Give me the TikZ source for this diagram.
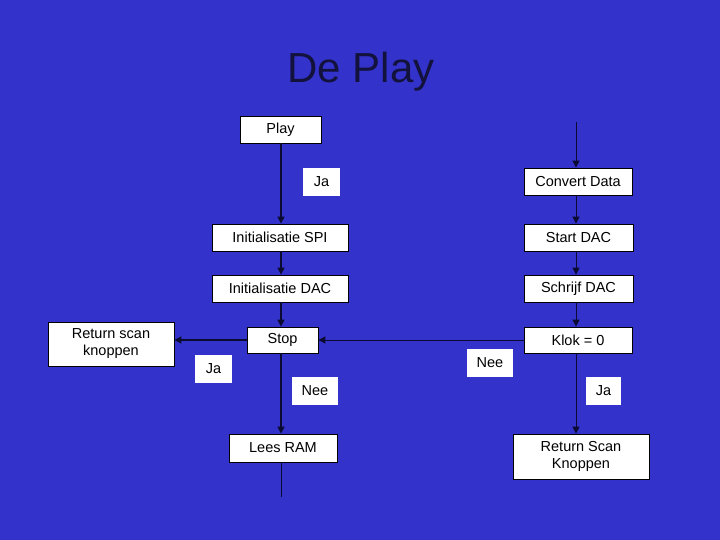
\documentclass[tikz,border=0pt]{standalone}
\usepackage{fontspec}
\setmainfont{Liberation Sans}
\usetikzlibrary{arrows.meta}
\definecolor{bgblue}{RGB}{51,51,204}
\definecolor{titlecol}{RGB}{18,18,60}
\definecolor{linecol}{RGB}{10,10,50}
\tikzset{
  box/.style={draw=black, line width=0.8pt, fill=white, inner sep=0pt, align=center, font=\fontsize{14.5}{17}\selectfont},
  lbl/.style={fill=white, inner sep=0pt, font=\fontsize{14.5}{17}\selectfont},
  flow/.style={draw=linecol, line width=1.5pt, -{Triangle[length=7pt,width=7pt]}},
  flowthin/.style={draw=linecol, line width=1pt, -{Triangle[length=7pt,width=7pt]}},
}
\begin{document}
\begin{tikzpicture}[x=1pt,y=-1pt]
\fill[bgblue] (0,0) rectangle (720,540);
\useasboundingbox (0,0) rectangle (720,540);
\node[font=\fontsize{42}{48}\selectfont, text=titlecol, inner sep=0pt, anchor=base] (title) at (361,83) {De Play};
% left column
\node[box, minimum width=81pt, minimum height=27pt] (play) at (280.5,129.5) {Play};
\node[lbl, minimum width=37pt, minimum height=28pt] (ja1) at (321.5,182) {Ja};
\node[box, minimum width=136pt, minimum height=27pt] (spi) at (280,237.5) {Initialisatie SPI};
\node[box, minimum width=136pt, minimum height=27pt] (idac) at (280,288.5) {Initialisatie DAC};
\node[box, minimum width=71pt, minimum height=26pt] (stop) at (282.5,340) {Stop};
\node[box, minimum width=126pt, minimum height=44pt] (rsk) at (111,344) {Return scan\\knoppen};
\node[lbl, minimum width=37pt, minimum height=28pt] (ja2) at (213.5,369) {Ja};
\node[lbl, minimum width=46pt, minimum height=28pt] (nee1) at (315,391) {Nee};
\node[box, minimum width=108pt, minimum height=28pt] (lees) at (283,448) {Lees RAM};
\coordinate (leesend) at (281,497);
% right column
\coordinate (topr) at (576,122);
\node[box, minimum width=108pt, minimum height=27pt] (conv) at (578,181.5) {Convert Data};
\node[box, minimum width=109pt, minimum height=27pt] (sdac) at (578.5,237.5) {Start DAC};
\node[box, minimum width=109pt, minimum height=27pt] (wdac) at (578.5,288.5) {Schrijf DAC};
\node[box, minimum width=108pt, minimum height=26pt] (klok) at (578,340) {Klok = 0};
\node[lbl, minimum width=46pt, minimum height=28pt] (nee2) at (490,363) {Nee};
\node[lbl, minimum width=35pt, minimum height=28pt] (ja3) at (603.5,391) {Ja};
\node[box, minimum width=136pt, minimum height=45pt] (rsk2) at (581,456.5) {Return Scan\\Knoppen};
% connectors left
\draw[flow] (play.south -| 281,0) -- (spi.north -| 281,0);
\draw[flow] (spi.south -| 281,0) -- (idac.north -| 281,0);
\draw[flow] (idac.south -| 281,0) -- (stop.north -| 281,0);
\draw[flow] (stop.south -| 281,0) -- (lees.north -| 281,0);
\draw[draw=linecol, line width=1pt] (lees.south -| 281,0) -- (leesend);
\draw[flow] (stop.west) -- (stop.west -| rsk.east);
% connectors right
\draw[flowthin] (topr) -- (conv.north -| topr);
\draw[flowthin] (conv.south -| topr) -- (sdac.north -| topr);
\draw[flowthin] (sdac.south -| topr) -- (wdac.north -| topr);
\draw[flowthin] (wdac.south -| topr) -- (klok.north -| topr);
\draw[flowthin] (klok.south -| topr) -- (rsk2.north -| topr);
\draw[flowthin] (klok.west) -- (stop.east);
\end{tikzpicture}
\end{document}
